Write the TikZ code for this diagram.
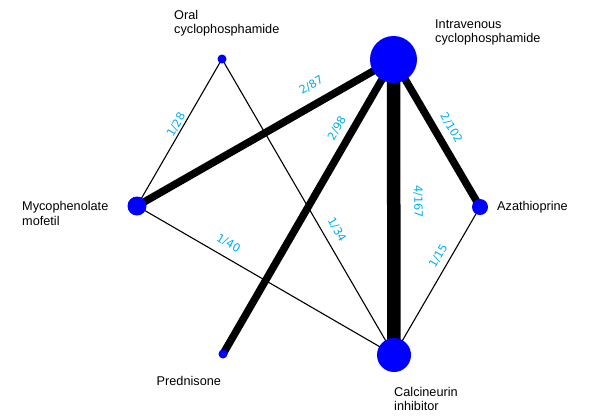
\documentclass[tikz,border=0pt]{standalone}
\usepackage{fontspec}
\setmainfont{Liberation Sans}
\newfontfamily\countfont{DejaVu Sans}
\definecolor{treatblue}{RGB}{0,0,255}
\definecolor{countcyan}{RGB}{0,176,240}
\pgfdeclarelayer{edges}
\pgfsetlayers{edges,main}
\tikzset{
  treat/.style={circle, fill=treatblue, inner sep=0pt, minimum size=#1},
  % names are placed by the baseline of their last line
  drug/.style={font=\fontsize{12.7}{14.4}\selectfont, align=left, inner sep=0pt, anchor=base west},
  link/.style={line width=#1, draw=black},
  cnt/.style={font=\countfont\fontsize{11.3}{12}\selectfont, text=countcyan, sloped,
    inner sep=0pt, text height=8.2pt, text depth=1pt, above=#1}
}
\begin{document}
\begin{tikzpicture}[x=1pt, y=-1pt]
  \useasboundingbox (0,0) rectangle (589,416);

  % treatments
  \node[treat=9pt]  (oral) at (222,59)     {};
  \node[treat=47pt] (iv)   at (393.5,59.5) {};
  \node[treat=19pt] (mmf)  at (137,206)    {};
  \node[treat=16pt] (aza)  at (480,207)    {};
  \node[treat=9pt]  (pred) at (223,354)    {};
  \node[treat=34pt] (cni)  at (394,355)    {};

  % treatment names
  \node[drug] (toral) at (174,33.5)  {Oral\\cyclophosphamide};
  \node[drug] (tiv)   at (435,42.7)  {Intravenous\\cyclophosphamide};
  \node[drug] (tmmf)  at (22,225)    {Mycophenolate\\mofetil};
  \node[drug] (taza)  at (497,210)   {Azathioprine};
  \node[drug] (tpred) at (156.5,385) {Prednisone};
  \node[drug] (tcni)  at (394,410.4) {Calcineurin\\inhibitor};

  % comparisons: studies/patients
  \begin{pgfonlayer}{edges}
    \draw[link=1.1pt] (mmf.center) -- node[cnt=1.5pt, pos=0.53] {1/28} (oral.center);
    \draw[link=1.1pt] (oral.center) -- node[cnt=8.2pt, pos=0.6] {1/34} (cni.center);
    \draw[link=1.1pt] (mmf.center) -- node[cnt=8.2pt, pos=0.33] {1/40} (cni.center);
    \draw[link=1.1pt] (cni.center) -- node[cnt=6.1pt, pos=0.63] {1/15} (aza.center);
    \draw[link=7.5pt] (mmf.center) -- node[cnt=9.9pt, pos=0.715] {2/87} (iv.center);
    \draw[link=7.5pt] (pred.center) -- node[cnt=6pt, pos=0.742] {2/98} (iv.center);
    \draw[link=7.5pt] (iv.center) -- node[cnt=6.7pt, pos=0.517] {2/102} (aza.center);
    \draw[link=13.5pt] (iv.center) -- node[cnt=13pt, pos=0.48] {4/167} (cni.center);
  \end{pgfonlayer}
\end{tikzpicture}
\end{document}
